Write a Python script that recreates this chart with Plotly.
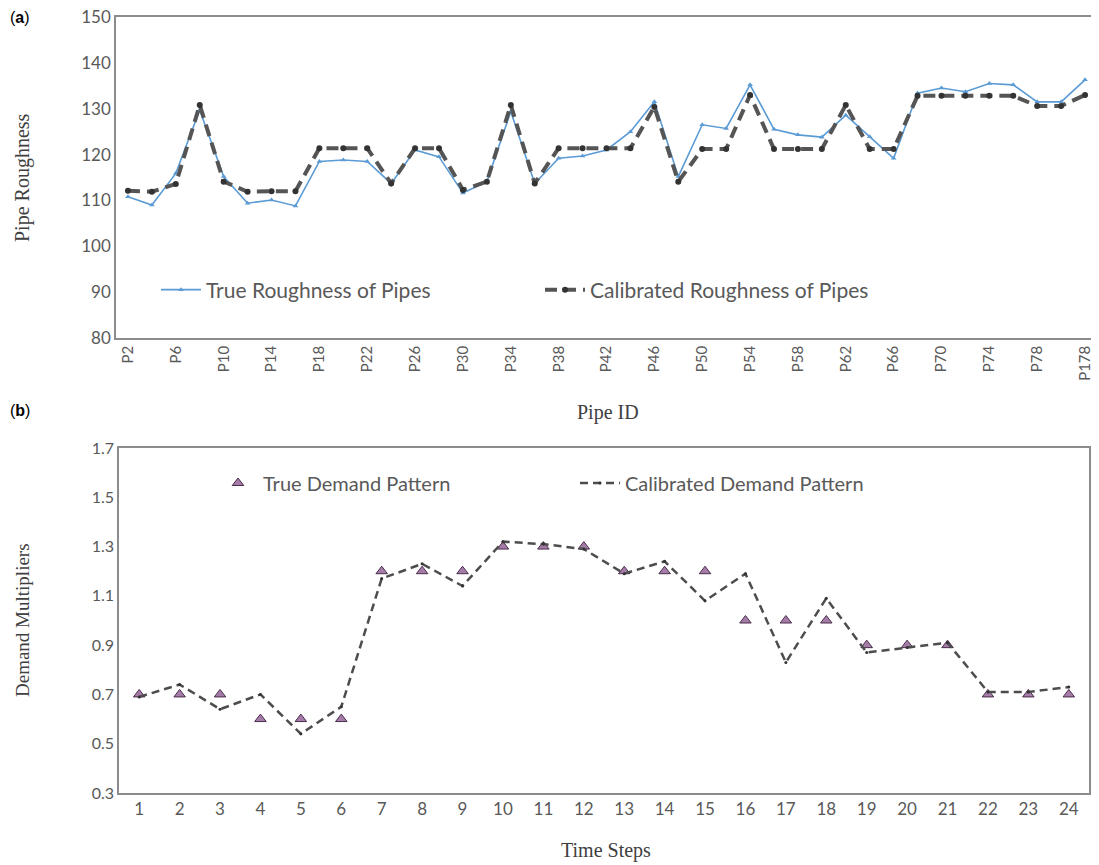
import plotly.graph_objects as go

# (a) pipe roughness
pipe_ids = [f"P{n}" for n in range(2, 81, 2)] + ["P178"]
true_roughness = [
    110.8, 109.0, 115.9, 129.7, 115.2, 109.4, 110.1, 108.8, 118.5, 118.8,
    118.5, 113.7, 121.0, 119.5, 111.6, 114.1, 129.4, 113.7, 119.2, 119.7,
    121.0, 125.0, 131.5, 115.2, 126.5, 125.7, 135.2, 125.5, 124.3, 123.8,
    128.6, 123.9, 119.2, 133.4, 134.5, 133.7, 135.5, 135.2, 131.5, 131.5,
    136.3,
]
calibrated_roughness = [
    112.1, 111.9, 113.6, 130.8, 114.1, 111.9, 112.0, 112.0, 121.4, 121.4,
    121.4, 113.7, 121.4, 121.4, 112.3, 114.1, 130.8, 113.7, 121.4, 121.4,
    121.4, 121.4, 130.4, 114.1, 121.2, 121.2, 133.0, 121.2, 121.2, 121.2,
    130.8, 121.2, 121.2, 132.8, 132.8, 132.8, 132.8, 132.8, 130.6, 130.6,
    133.0,
]
roughness_ticks = [80, 90, 100, 110, 120, 130, 140, 150]

# (b) demand pattern
time_steps = list(range(1, 25))
true_demand = [
    0.7, 0.7, 0.7, 0.6, 0.6, 0.6, 1.2, 1.2, 1.2, 1.3, 1.3, 1.3,
    1.2, 1.2, 1.2, 1.0, 1.0, 1.0, 0.9, 0.9, 0.9, 0.7, 0.7, 0.7,
]
calibrated_demand = [
    0.69, 0.74, 0.64, 0.70, 0.54, 0.65, 1.17, 1.23, 1.14, 1.32, 1.31, 1.29,
    1.19, 1.24, 1.08, 1.19, 0.83, 1.09, 0.87, 0.89, 0.91, 0.71, 0.71, 0.73,
]
demand_ticks = [0.3, 0.5, 0.7, 0.9, 1.1, 1.3, 1.5, 1.7]

# the page body has an 8px margin, so the figure is a bit smaller and shifted
OFF = 8
W, H = 1099 - OFF, 865 - OFF


def fx(px):
    return (px - OFF) / W


def fy(py):
    return 1 - (py - OFF) / H


SANS = "Lato, 'Open Sans', sans-serif"
SERIF = "'Liberation Serif', 'Times New Roman', serif"
GREY = "#595959"

fig = go.Figure()

fig.add_trace(go.Scatter(
    x=pipe_ids, y=true_roughness, mode="lines+markers",
    name="True Roughness of Pipes",
    line=dict(color="#5B9BD5", width=1.6),
    marker=dict(symbol="triangle-up", size=5, color="#5B9BD5"),
    xaxis="x", yaxis="y", legend="legend",
))
fig.add_trace(go.Scatter(
    x=pipe_ids, y=calibrated_roughness, mode="lines+markers",
    name="Calibrated Roughness of Pipes",
    line=dict(color="#555555", width=4, dash="12px,7px"),
    marker=dict(symbol="circle", size=6, color="#333333"),
    xaxis="x", yaxis="y", legend="legend",
))

fig.add_trace(go.Scatter(
    x=time_steps, y=true_demand, mode="markers",
    name="True Demand Pattern",
    marker=dict(symbol="triangle-up", size=10, color="#A57BA8",
                line=dict(color="#4A2E4C", width=1)),
    xaxis="x2", yaxis="y2", legend="legend2",
))
fig.add_trace(go.Scatter(
    x=time_steps, y=calibrated_demand, mode="lines+markers",
    name="Calibrated Demand Pattern",
    line=dict(color="#4D4D4D", width=2.5, dash="8px,5px"),
    marker=dict(symbol="circle", size=3, color="#333333"),
    xaxis="x2", yaxis="y2", legend="legend2",
))

box = dict(showline=True, mirror=True, linecolor="#8C8C8C", linewidth=1.5,
           showgrid=False, zeroline=False, ticks="", automargin=False,
           ticklabeloverflow="allow")

fig.update_layout(
    width=W, height=H,
    margin=dict(l=0, r=0, t=0, b=0),
    paper_bgcolor="white", plot_bgcolor="white",
    font=dict(family=SANS, color=GREY),
    xaxis=dict(
        domain=[fx(116), fx(1097)], anchor="y", type="category",
        range=[-0.5, len(pipe_ids) - 0.5],
        tickmode="array", tickvals=pipe_ids[::2], ticktext=pipe_ids[::2],
        tickangle=-90, tickfont=dict(size=15, color=GREY), **box,
    ),
    yaxis=dict(
        domain=[fy(338), fy(17)], anchor="x",
        range=[roughness_ticks[0], roughness_ticks[-1]],
        tickmode="array", tickvals=roughness_ticks,
        tickfont=dict(size=17, color=GREY), **box,
    ),
    xaxis2=dict(
        domain=[fx(119), fx(1089)], anchor="y2",
        range=[0.5, len(time_steps) + 0.5],
        tickmode="array", tickvals=time_steps,
        tickfont=dict(size=17, color=GREY), **box,
    ),
    yaxis2=dict(
        domain=[fy(793), fy(448)], anchor="x2",
        range=[demand_ticks[0], demand_ticks[-1]],
        tickmode="array", tickvals=demand_ticks, tickformat=".1f",
        tickfont=dict(size=16, color=GREY), **box,
    ),
    legend=dict(
        orientation="h", x=fx(156), y=fy(290), xanchor="left", yanchor="middle",
        bgcolor="rgba(0,0,0,0)", font=dict(size=21, color=GREY),
        entrywidth=329, entrywidthmode="pixels", itemwidth=40,
    ),
    legend2=dict(
        orientation="h", x=fx(213), y=fy(483), xanchor="left", yanchor="middle",
        bgcolor="rgba(0,0,0,0)", font=dict(size=20, color=GREY),
        entrywidth=307, entrywidthmode="pixels", itemwidth=40,
    ),
    showlegend=True,
)

annotations = [
    dict(text="Pipe Roughness", x=fx(22), y=fy(178), textangle=-90,
         font=dict(family=SERIF, size=20, color="#404040")),
    dict(text="Pipe ID", x=fx(608), y=fy(412),
         font=dict(family=SERIF, size=20, color="#404040")),
    dict(text="Demand Multipliers", x=fx(22), y=fy(620), textangle=-90,
         font=dict(family=SERIF, size=19, color="#404040")),
    dict(text="Time Steps", x=fx(606), y=fy(850),
         font=dict(family=SERIF, size=20, color="#404040")),
    dict(text="(<b>a</b>)", x=fx(8), y=fy(17), xanchor="left",
         font=dict(family="'Liberation Sans', Arial", size=16, color="#000000")),
    dict(text="(<b>b</b>)", x=fx(8), y=fy(411), xanchor="left",
         font=dict(family="'Liberation Sans', Arial", size=16, color="#000000")),
]
for a in annotations:
    a.setdefault("xanchor", "center")
    fig.add_annotation(xref="paper", yref="paper", showarrow=False, yanchor="middle", **a)

fig.write_html("out.html")
